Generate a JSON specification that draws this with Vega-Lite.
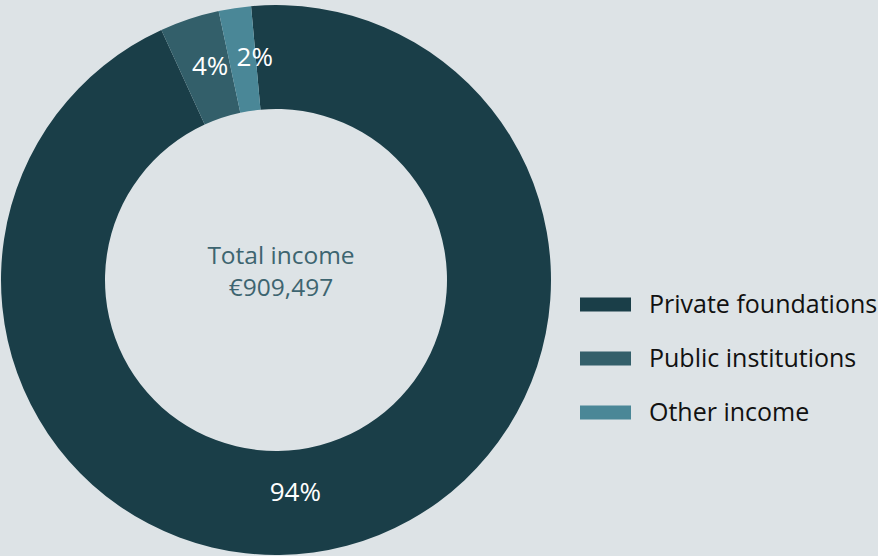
{
  "$schema": "https://vega.github.io/schema/vega-lite/v6.json",
  "width": 552,
  "height": 556,
  "padding": {"left": 0, "top": 2, "right": 2, "bottom": 0},
  "background": "#dde3e6",
  "config": {"view": {"stroke": null}, "font": "Open Sans"},
  "datasets": {
    "income": [
      {"category": "Private foundations", "share": 94.6, "label": "94%", "order": 1},
      {"category": "Public institutions", "share": 3.5, "label": "4%", "order": 2},
      {"category": "Other income", "share": 1.9, "label": "2%", "order": 3}
    ],
    "centre": [
      {"text": ["Total income", "€909,497"]}
    ]
  },
  "layer": [
    {
      "data": {"name": "income"},
      "mark": {"type": "arc", "outerRadius": 275, "innerRadius": 171},
      "encoding": {
        "theta": {"field": "share", "type": "quantitative", "stack": true, "scale": {"range": [-0.0908, 6.1924]}},
        "order": {"field": "order", "type": "quantitative"},
        "color": {
          "field": "category", "type": "nominal",
          "scale": {"domain": ["Private foundations", "Public institutions", "Other income"], "range": ["#1a3e48", "#335f6a", "#4a8797"]},
          "legend": {
            "title": null, "orient": "none", "legendX": 580, "legendY": 277,
            "symbolType": "M-1,-0.2745H1V0.2745H-1Z", "symbolSize": 2601, "symbolStrokeWidth": 0,
            "labelFontSize": 25, "labelColor": "#111111", "labelFont": "Open Sans", "labelOffset": 18,
            "rowPadding": 15, "labelLimit": 400
          }
        }
      }
    },
    {
      "data": {"name": "income"},
      "mark": {"type": "text", "fontSize": 26, "color": "#ffffff", "font": "Open Sans",
               "radius": {"expr": "datum.label === '94%' ? 214 : 223"},
               "thetaOffset": {"expr": "datum.label === '94%' ? 0.17 : datum.label === '2%' ? 0.055 : 0.02"}},
      "encoding": {
        "theta": {"field": "share", "type": "quantitative", "stack": true, "scale": {"range": [-0.0908, 6.1924]}},
        "order": {"field": "order", "type": "quantitative"},
        "text": {"field": "label", "type": "nominal"}
      }
    },
    {
      "data": {"name": "centre"},
      "mark": {"type": "text", "x": {"expr": "width/2 + 5"}, "y": {"expr": "height/2 - 23"}, "fontSize": 24.5, "lineHeight": 32, "color": "#3d6570", "font": "Open Sans", "align": "center", "baseline": "middle"},
      "encoding": {"text": {"field": "text"}}
    }
  ]
}
